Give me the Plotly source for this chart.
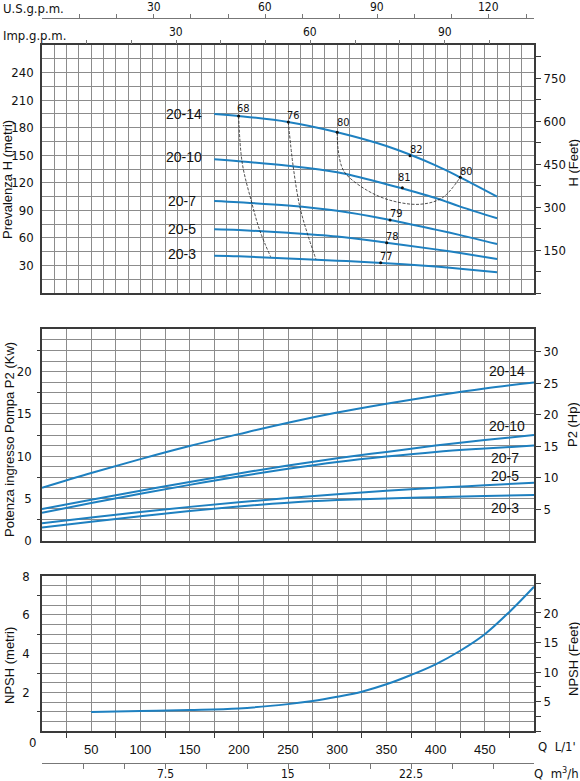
import plotly.graph_objects as go

# ---------------- DATA ----------------
series_names = ["20-14", "20-10", "20-7", "20-5", "20-3"]

# Head curves (Q in L/min, H in m)
Q_head = [175, 200, 250, 300, 350, 400, 425, 462.5]
H_20_14 = [195.0, 192.7, 186.2, 175.0, 160.0, 139.0, 126.0, 105.0]
H_20_10 = [145.6, 143.5, 138.6, 131.5, 118.5, 103.5, 94.0, 81.3]
H_20_7 = [100.2, 98.8, 95.2, 89.5, 80.3, 69.0, 63.0, 53.3]
H_20_5 = [69.3, 68.5, 65.6, 61.5, 54.8, 47.5, 43.5, 37.0]
H_20_3 = [40.6, 40.0, 37.6, 35.2, 32.5, 28.8, 26.5, 22.5]
head_series = [H_20_14, H_20_10, H_20_7, H_20_5, H_20_3]

# Efficiency iso-lines
eff68_Q = [199.8, 203.5, 213.0, 221.5, 232.3]
eff68_H = [192.7, 141.5, 99.0, 67.5, 39.5]
eff76_Q = [250.3, 255.3, 262.0, 269.6, 278.4]
eff76_H = [186.2, 137.5, 94.0, 65.0, 36.7]
eff80_Q = [300.0, 301.0, 304.6, 309.7, 330.0, 353.7, 384.2, 407.0, 425.0]
eff80_H = [175.0, 155.7, 137.5, 128.5, 112.0, 101.0, 96.6, 103.8, 126.0]

# Efficiency points and labels
eff_pt_Q = [199.8, 250.3, 300.0, 374.0, 425.0, 366.2, 353.7, 350.3, 344.2]
eff_pt_H = [192.7, 186.2, 175.0, 149.5, 126.0, 114.6, 79.5, 54.8, 33.0]
eff_pt_lbl = ["68", "76", "80", "82", "80", "81", "79", "78", "77"]

# Power curves (kW)
Q_pow = [0, 50, 100, 150, 200, 250, 300, 350, 400, 450, 500]
P_20_14 = [6.25, 8.0, 9.65, 11.2, 12.6, 13.95, 15.15, 16.2, 17.15, 18.0, 18.7]
P_20_10 = [3.75, 4.85, 5.9, 6.95, 7.95, 8.9, 9.75, 10.5, 11.25, 11.9, 12.5]
P_20_7 = [3.3, 4.45, 5.55, 6.6, 7.6, 8.5, 9.3, 9.95, 10.5, 10.9, 11.25]
P_20_5 = [2.05, 2.75, 3.4, 4.0, 4.55, 5.05, 5.5, 5.9, 6.25, 6.55, 6.85]
P_20_3 = [1.55, 2.25, 2.9, 3.5, 4.05, 4.5, 4.8, 5.0, 5.15, 5.3, 5.4]
pow_series = [P_20_14, P_20_10, P_20_7, P_20_5, P_20_3]

# NPSH (m)
Q_npsh = [50, 100, 150, 200, 250, 275, 300, 325, 350, 375, 400, 425, 450, 475, 500]
NPSH = [1.0, 1.05, 1.1, 1.18, 1.4, 1.56, 1.78, 2.04, 2.42, 2.9, 3.45, 4.15, 5.0, 6.15, 7.45]

# Tick labels
H_ticks = [30, 60, 90, 120, 150, 180, 210, 240]
Hft_ticks = [150, 300, 450, 600, 750]
P_ticks = [0, 5, 10, 15, 20]
Php_ticks = [5, 10, 15, 20, 25, 30]
N_ticks = [2, 4, 6, 8]
Nft_ticks = [5, 10, 15, 20]
Q_ticks = [50, 100, 150, 200, 250, 300, 350, 400, 450]
US_ticks = [30, 60, 90, 120]
IMP_ticks = [30, 60, 90]
M3_ticks = [7.5, 15, 22.5]
M3_text = ["7.5", "15", "22.5"]

# ---------------- STYLE ----------------
BLUE = "#1e80c0"
GRID = "#8c8c8c"
LINE = "#3a3a3a"
NARROW = "Liberation Sans Narrow, DejaVu Sans Condensed, Arial Narrow, sans-serif"
SANS = "Liberation Sans, Arial, sans-serif"

W, H = 580, 781
ML, MR, MT, MB = 42, 46, 18, 18
PH = H - MT - MB
PW = W - ML - MR


def fy(px):
    return (H - MB - px) / PH


def fx(px):
    return (px - ML) / PW


fig = go.Figure()

for name, hs in zip(series_names, head_series):
    fig.add_trace(go.Scatter(x=Q_head, y=hs, mode="lines", line=dict(color=BLUE, width=2, shape="spline"),
                             xaxis="x", yaxis="y", showlegend=False, hoverinfo="skip"))
for qq, hh in [(eff68_Q, eff68_H), (eff76_Q, eff76_H), (eff80_Q, eff80_H)]:
    fig.add_trace(go.Scatter(x=qq, y=hh, mode="lines",
                             line=dict(color="#222", width=0.8, dash="3px,1.5px", shape="spline"),
                             xaxis="x", yaxis="y", showlegend=False, hoverinfo="skip"))
fig.add_trace(go.Scatter(x=eff_pt_Q, y=eff_pt_H, mode="markers", marker=dict(color="#111", size=3),
                         xaxis="x", yaxis="y", showlegend=False, hoverinfo="skip"))

for name, ps in zip(series_names, pow_series):
    fig.add_trace(go.Scatter(x=Q_pow, y=ps, mode="lines", line=dict(color=BLUE, width=2, shape="spline"),
                             xaxis="x2", yaxis="y2", showlegend=False, hoverinfo="skip"))

fig.add_trace(go.Scatter(x=Q_npsh, y=NPSH, mode="lines", line=dict(color=BLUE, width=2, shape="spline"),
                         xaxis="x3", yaxis="y3", showlegend=False, hoverinfo="skip"))

for xa, ya in [("x", "y4"), ("x2", "y5"), ("x3", "y6"), ("x4", "y"), ("x5", "y"), ("x6", "y3"),
               ("x2", "y7"), ("x3", "y8")]:
    fig.add_trace(go.Scatter(x=[None], y=[None], mode="lines", xaxis=xa, yaxis=ya,
                             showlegend=False, hoverinfo="skip"))

tickfont = dict(family=NARROW, size=13, color="#111")

dom1 = [fy(293), fy(45)]
dom2 = [fy(540.7), fy(329.3)]
dom3 = [fy(731.3), fy(576)]

gridx = dict(showgrid=True, gridcolor=GRID, gridwidth=0.8, zeroline=False, showline=True, mirror=True,
             linecolor=LINE, linewidth=1.6, range=[0, 500], domain=[0, 1], ticks="", automargin=False)

layout = dict(
    width=W, height=H, autosize=False,
    margin=dict(l=ML, r=MR, t=MT, b=MB, pad=0, autoexpand=False),
    paper_bgcolor="white", plot_bgcolor="white",
    showlegend=False,
    xaxis=dict(gridx, anchor="y", dtick=12.5, tick0=0, showticklabels=False),
    xaxis2=dict(gridx, anchor="y2", dtick=25, tick0=0, showticklabels=False),
    xaxis3=dict(gridx, anchor="y3", tickmode="array", tickvals=Q_ticks, ticktext=[str(v) for v in Q_ticks],
                tickfont=dict(family=SANS, size=13, color="#111"), ticklabelstandoff=5,
                minor=dict(tickvals=[25 + 50 * i for i in range(10)], ticks="outside", ticklen=5,
                           tickcolor=LINE, tickwidth=1, showgrid=True, gridcolor=GRID, gridwidth=0.8)),
    yaxis=dict(domain=dom1, anchor="x", range=[0, 270], showgrid=True, gridcolor=GRID, gridwidth=0.8,
               zeroline=False, showline=True, mirror=True, linecolor=LINE, linewidth=1.6, automargin=False,
               tickmode="array", tickvals=H_ticks, ticktext=[str(v) for v in H_ticks], ticks="",
               tickfont=tickfont, ticklabelstandoff=4,
               minor=dict(dtick=15, tick0=0, showgrid=True, gridcolor=GRID, gridwidth=0.8, ticks="")),
    yaxis2=dict(domain=dom2, anchor="x2", range=[0, 25], showgrid=True, gridcolor=GRID, gridwidth=0.8,
                zeroline=False, showline=True, mirror=True, linecolor=LINE, linewidth=1.6, automargin=False,
                tickmode="array", tickvals=P_ticks, ticktext=[str(v) for v in P_ticks], ticks="",
                tickfont=tickfont, ticklabelstandoff=6,
                minor=dict(dtick=1.25, tick0=0, showgrid=True, gridcolor=GRID, gridwidth=0.8, ticks="")),
    yaxis3=dict(domain=dom3, anchor="x3", range=[0, 8], showgrid=True, gridcolor=GRID, gridwidth=0.8,
                zeroline=False, showline=True, mirror=True, linecolor=LINE, linewidth=1.6, automargin=False,
                tickmode="array", tickvals=N_ticks, ticktext=[str(v) for v in N_ticks], ticks="",
                tickfont=tickfont, ticklabelstandoff=8,
                minor=dict(dtick=0.5, tick0=0, showgrid=True, gridcolor=GRID, gridwidth=0.8, ticks="")),
    yaxis4=dict(overlaying="y", side="right", anchor="x", range=[0, 866], showgrid=False, zeroline=False,
                automargin=False,
                tickmode="array", tickvals=Hft_ticks, ticktext=[str(v) for v in Hft_ticks],
                ticks="outside", ticklen=6, tickcolor=LINE, tickfont=tickfont,
                minor=dict(dtick=75, tick0=0, ticks="outside", ticklen=6, tickcolor=LINE, showgrid=False)),
    yaxis5=dict(overlaying="y2", side="right", anchor="x2", range=[0, 33.52], showgrid=False, zeroline=False,
                automargin=False,
                tickmode="array", tickvals=Php_ticks, ticktext=[str(v) for v in Php_ticks],
                ticks="outside", ticklen=6, tickcolor=LINE, tickfont=tickfont),
    yaxis6=dict(overlaying="y3", side="right", anchor="x3", range=[0, 26.25], showgrid=False, zeroline=False,
                automargin=False,
                tickmode="array", tickvals=Nft_ticks, ticktext=[str(v) for v in Nft_ticks],
                ticks="outside", ticklen=6, tickcolor=LINE, tickfont=tickfont,
                minor=dict(dtick=2.5, tick0=0, ticks="outside", ticklen=6, tickcolor=LINE, showgrid=False)),
    yaxis7=dict(overlaying="y2", side="left", anchor="x2", range=[0, 25], showgrid=False, zeroline=False,
                automargin=False,
                showticklabels=False, tickmode="array", tickvals=[2.5 + 5 * i for i in range(5)],
                ticks="outside", ticklen=4, tickcolor=LINE),
    yaxis8=dict(overlaying="y3", side="left", anchor="x3", range=[0, 8], showgrid=False, zeroline=False,
                automargin=False,
                showticklabels=False, tickmode="array", tickvals=[1, 3, 5, 7],
                ticks="outside", ticklen=4, tickcolor=LINE),
    xaxis4=dict(overlaying="x", side="top", anchor="free", position=1, range=[0, 500 / 3.78541],
                showgrid=False, zeroline=False, showline=True, linecolor="#777", linewidth=1, automargin=False,
                tickmode="array", tickvals=list(range(10, 140, 10)), showticklabels=False,
                ticks="outside", ticklen=4, tickcolor="#777"),
    xaxis5=dict(overlaying="x", side="top", anchor="y", range=[0, 500 / 4.54609],
                showgrid=False, zeroline=False, showline=False, automargin=False,
                tickmode="array", tickvals=list(range(10, 110, 10)), showticklabels=False,
                ticks="outside", ticklen=4, tickcolor="#777"),
    xaxis6=dict(overlaying="x3", side="bottom", anchor="free", position=0, range=[0, 30],
                showgrid=False, zeroline=False, showline=True, linecolor="#777", linewidth=1, automargin=False,
                tickmode="array", tickvals=[2.5 * i for i in range(1, 12)], showticklabels=False,
                ticks="outside", ticklen=5, tickcolor="#777"),
)
fig.update_layout(**layout)

ann = []
lblfont = dict(family=SANS, size=14, color="#111")
smallfont = dict(family=NARROW, size=12, color="#111")
for v in US_ticks:
    ann.append(dict(text=str(v), x=v, y=fy(7.5), xref="x4", yref="paper", showarrow=False,
                    xanchor="center", yanchor="middle", font=smallfont))
for v in IMP_ticks:
    ann.append(dict(text=str(v), x=v, y=fy(32), xref="x5", yref="paper", showarrow=False,
                    xanchor="center", yanchor="middle", font=smallfont))
for v, t in zip(M3_ticks, M3_text):
    ann.append(dict(text=t, x=v, y=fy(773.5), xref="x6", yref="paper", showarrow=False,
                    xanchor="center", yanchor="middle", font=smallfont))

top_lbl_px = [(184.3, 114), (184.3, 156.7), (181.7, 201), (181.7, 229.3), (181.7, 254)]
for name, (px, py) in zip(series_names, top_lbl_px):
    ann.append(dict(text=name, x=fx(px), y=fy(py), xref="paper", yref="paper", showarrow=False,
                    xanchor="center", yanchor="middle", font=lblfont))
mid_lbl_px = [(507, 370.7), (507, 426), (505, 457.7), (505, 476), (505, 508.3)]
for name, (px, py) in zip(series_names, mid_lbl_px):
    ann.append(dict(text=name, x=fx(px), y=fy(py), xref="paper", yref="paper", showarrow=False,
                    xanchor="center", yanchor="middle", font=lblfont))
shifts = [(5, 8), (5, 6), (6, 10), (6, 6), (6, 6), (2, 10), (6, 6), (6, 6), (6, 6)]
for q, h, t, (sx, sy) in zip(eff_pt_Q, eff_pt_H, eff_pt_lbl, shifts):
    ann.append(dict(text=t, x=q, y=h, xref="x", yref="y", showarrow=False, xshift=sx, yshift=sy,
                    xanchor="center", yanchor="middle", font=dict(family=NARROW, size=11, color="#111")))
titlefont = dict(family=SANS, size=13, color="#111")
for txt, px, py in [("Prevalenza H (metri)", 8, 180), ("Potenza ingresso Pompa P2 (Kw)", 9, 440),
                    ("NPSH (metri)", 9, 666)]:
    ann.append(dict(text=txt, x=fx(px), y=fy(py), xref="paper", yref="paper", showarrow=False,
                    textangle=-90, xanchor="center", yanchor="middle", font=titlefont))
for txt, px, py in [("H (Feet)", 573, 162.5), ("P2 (Hp)", 573, 425), ("NPSH (Feet)", 573, 659)]:
    ann.append(dict(text=txt, x=fx(px), y=fy(py), xref="paper", yref="paper", showarrow=False,
                    textangle=-90, xanchor="center", yanchor="middle", font=titlefont))
for txt, px, py in [("U.S.g.p.m.", 33, 8), ("Imp.g.p.m.", 34, 35), ("0", 32.3, 742.7),
                    ("Q  L/1'", 556.5, 746.7), ("Q  m<sup>3</sup>/h", 556, 773)]:
    ann.append(dict(text=txt, x=fx(px), y=fy(py), xref="paper", yref="paper", showarrow=False,
                    xanchor="center", yanchor="middle", font=dict(family=NARROW, size=13, color="#111")))
fig.update_layout(annotations=ann)

fig.write_html("out.html")
